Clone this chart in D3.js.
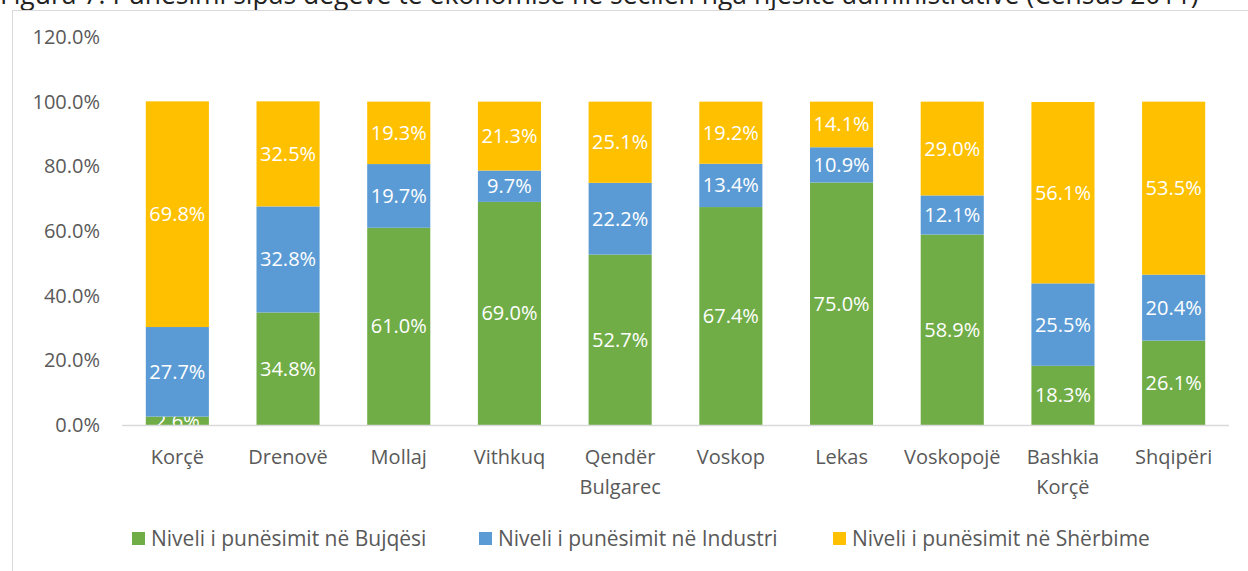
<!DOCTYPE html>
<html>
<head>
<meta charset="utf-8">
<script src="https://cdn.jsdelivr.net/npm/d3@7"></script>
<style>
  body { margin: 0; background: #fff; }
  svg text { font-family: "Open Sans", Lato, sans-serif; }
</style>
</head>
<body>
<svg id="chart" width="1248" height="571"></svg>
<script>
// categories (second line after the |)
var categories = ['Korçë', 'Drenovë', 'Mollaj', 'Vithkuq', 'Qendër|Bulgarec', 'Voskop', 'Lekas', 'Voskopojë', 'Bashkia|Korçë', 'Shqipëri'];

var bujqesi  = [2.6, 34.8, 61.0, 69.0, 52.7, 67.4, 75.0, 58.9, 18.3, 26.1];
var industri = [27.7, 32.8, 19.7, 9.7, 22.2, 13.4, 10.9, 12.1, 25.5, 20.4];
var sherbime = [69.8, 32.5, 19.3, 21.3, 25.1, 19.2, 14.1, 29.0, 56.1, 53.5];

var seriesNames = ['Niveli i punësimit në Bujqësi', 'Niveli i punësimit në Industri', 'Niveli i punësimit në Shërbime'];
var seriesColors = ['#70AD47', '#5B9BD5', '#FFC000'];
var yTicks = [0, 20, 40, 60, 80, 100, 120];

var svg = d3.select('#chart');

// title, cut off at the top like in the source
svg.append('text')
	.attr('x', 0)
	.attr('y', 4)
	.style('font-size', '26.5px')
	.style('fill', '#222')
	.text('Figura 7: Punësimi sipas degëve të ekonomisë në secilën nga njësitë administrative (Census 2011)');

// chart frame
svg.append('rect')
	.attr('x', 12.5).attr('y', 10.5)
	.attr('width', 1240).attr('height', 580)
	.attr('fill', 'none')
	.attr('stroke', '#d9d9d9');

var x = d3.scaleBand().domain(categories).range([122, 1229]).paddingInner(0.43).paddingOuter(0.215);
var y = d3.scaleLinear().domain([0, 120]).range([425, 37]);

// table for the stack
var table = categories.map(function (c, i) {
	return { cat: c, b: bujqesi[i], ind: industri[i], s: sherbime[i] };
});
var stack = d3.stack().keys(['b', 'ind', 's']);
var layers = stack(table);

// y axis labels
svg.append('g')
	.attr('transform', 'translate(100,0)')
	.call(d3.axisLeft(y).tickValues(yTicks).tickSize(0).tickPadding(0).tickFormat(function (d) { return d.toFixed(1) + '%'; }))
	.call(function (g) { g.select('.domain').remove(); })
	.selectAll('text')
	.style('font-size', '20px')
	.style('fill', '#595959')
	.style('font-family', '"Open Sans", sans-serif');

// bars
var layer = svg.selectAll('.layer')
	.data(layers)
	.enter().append('g')
	.attr('class', 'layer')
	.attr('fill', function (d, i) { return seriesColors[i]; });

layer.selectAll('rect')
	.data(function (d) { return d; })
	.enter().append('rect')
	.attr('x', function (d) { return x(d.data.cat); })
	.attr('width', x.bandwidth())
	.attr('y', function (d) { return y(d[1]); })
	.attr('height', function (d) { return y(d[0]) - y(d[1]); });

// x axis line
svg.append('line')
	.attr('x1', 122).attr('x2', 1229)
	.attr('y1', 425.5).attr('y2', 425.5)
	.attr('stroke', '#d9d9d9')
	.attr('stroke-width', 1.5);

// value labels
layer.selectAll('text')
	.data(function (d) { return d; })
	.enter().append('text')
	.attr('x', function (d) { return x(d.data.cat) + x.bandwidth() / 2; })
	.attr('y', function (d) { return (y(d[0]) + y(d[1])) / 2; })
	.attr('dy', '0.35em')
	.attr('text-anchor', 'middle')
	.style('font-size', '20px')
	.style('fill', '#fff')
	.text(function (d) { return (d[1] - d[0]).toFixed(1) + '%'; });

// category labels
var catG = svg.append('g');
categories.forEach(function (c) {
	var lines = c.split('|');
	var t = catG.append('text')
		.attr('x', x(c) + x.bandwidth() / 2)
		.attr('y', 464)
		.attr('text-anchor', 'middle')
		.style('font-size', '20px')
		.style('fill', '#595959');
	lines.forEach(function (l, i) {
		t.append('tspan')
			.attr('x', x(c) + x.bandwidth() / 2)
			.attr('dy', i === 0 ? 0 : 30)
			.text(l);
	});
});

// legend
var legendX = [132, 479, 833];
var legend = svg.selectAll('.legend')
	.data(seriesNames)
	.enter().append('g')
	.attr('class', 'legend')
	.attr('transform', function (d, i) { return 'translate(' + legendX[i] + ',532)'; });

legend.append('rect')
	.attr('width', 13).attr('height', 13)
	.attr('fill', function (d, i) { return seriesColors[i]; });

legend.append('text')
	.attr('x', 19)
	.attr('y', 14)
	.style('font-size', '21px')
	.style('fill', '#595959')
	.text(function (d) { return d; });
</script>
</body>
</html>
